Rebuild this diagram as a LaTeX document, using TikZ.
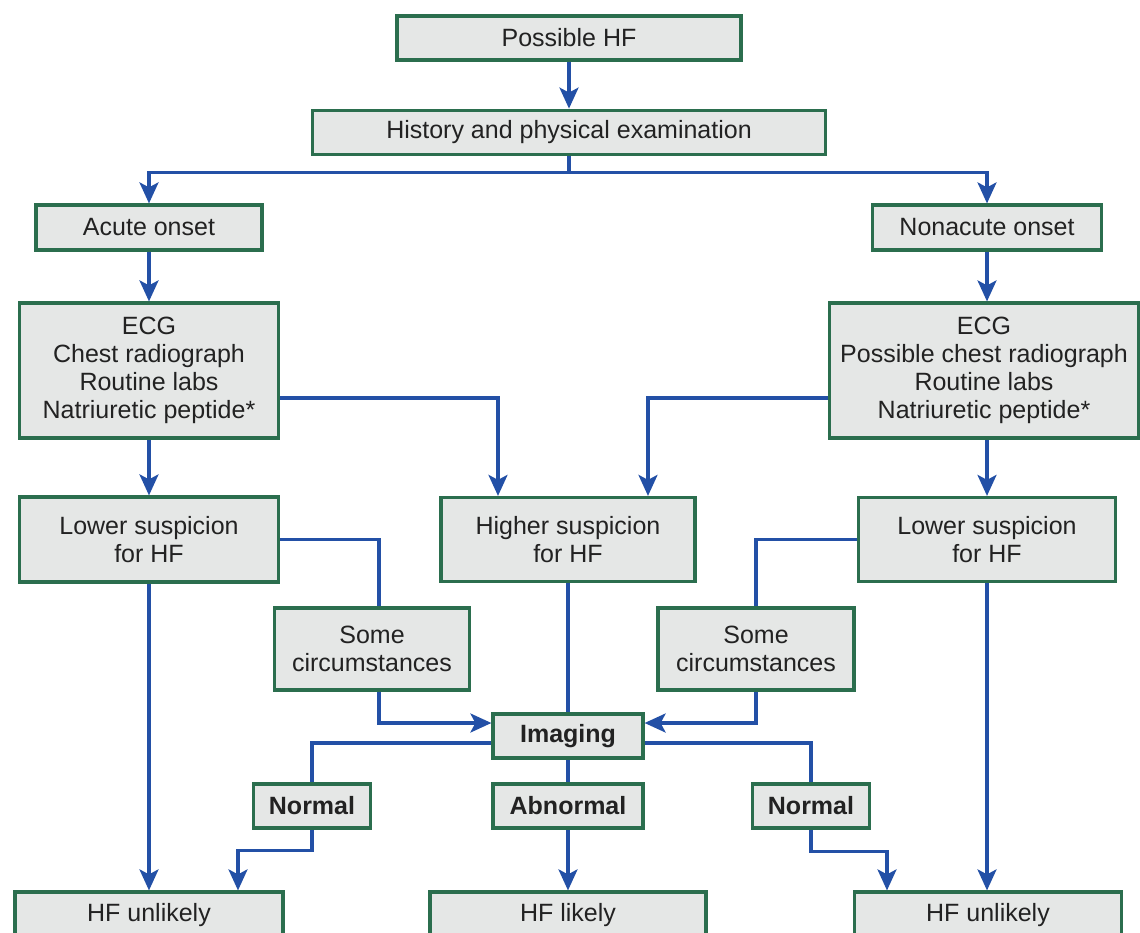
\documentclass[tikz,border=0pt]{standalone}
\usepackage{fontspec}
\setmainfont{Liberation Sans}
\usetikzlibrary{positioning,arrows.meta}

\definecolor{boxgreen}{HTML}{2B6E4E}
\definecolor{boxfill}{HTML}{E5E7E6}
\definecolor{flowblue}{HTML}{2350A6}
\definecolor{inktext}{HTML}{222222}

\begin{document}
\begin{tikzpicture}[
    x=1pt, y=-1pt,
    node distance=26pt,
    box/.style={
        draw=boxgreen,
        fill=boxfill,
        text=inktext,
        line width=3.2pt,
        rectangle,
        inner sep=0pt,
        align=center,
        font=\fontsize{25}{28}\selectfont
    },
    arrow/.style={-{Stealth[length=21pt,width=19pt,inset=5pt]}, draw=flowblue, line width=3.2pt},
    link/.style={draw=flowblue, line width=3.2pt}
]

\clip (0,0) rectangle (1140,932);
\fill[white] (0,0) rectangle (1140,932);

% top of the chart
\node[box, minimum width=344pt, minimum height=44pt] (possible) at (569,38) {Possible HF};
\node[box, minimum width=513pt, minimum height=44pt, below=47pt of possible] (history) {History and physical examination};

\node[box, minimum width=226pt, minimum height=45pt] (acute) at (149,227.5) {Acute onset};
\node[box, minimum width=229pt, minimum height=45pt] (nonacute) at (987,227.5) {Nonacute onset};

\node[box, minimum width=259pt, minimum height=135pt] (testsA) at (149,370.5) {
ECG \\
Chest radiograph \\
Routine labs \\
Natriuretic peptide*
};
\node[box, minimum width=309pt, minimum height=135pt] (testsB) at (984,370.5) {
ECG \\
Possible chest radiograph \\
Routine labs \\
Natriuretic peptide*
};

% suspicion level
\node[box, minimum width=259pt, minimum height=85pt] (lowerA) at (149,539.5) {Lower suspicion \\ for HF};
\node[box, minimum width=254pt, minimum height=84pt] (higher) at (568,539.5) {Higher suspicion \\ for HF};
\node[box, minimum width=257pt, minimum height=84pt] (lowerB) at (987,539.5) {Lower suspicion \\ for HF};

\node[box, minimum width=195pt, minimum height=82pt] (someA) at (372,649) {Some \\ circumstances};
\node[box, minimum width=196pt, minimum height=82pt] (someB) at (756,649) {Some \\ circumstances};

% imaging and outcomes
\node[box, minimum width=150pt, minimum height=44pt] (imaging) at (568,736) {\textbf{Imaging}};
\node[box, minimum width=150pt, minimum height=44pt] (abnormal) at (568,806) {\textbf{Abnormal}};
\node[box, minimum width=117pt, minimum height=44pt] (normalA) at (312,806) {\textbf{Normal}};
\node[box, minimum width=117pt, minimum height=44pt] (normalB) at (811,806) {\textbf{Normal}};

\node[box, minimum width=268pt, minimum height=46pt] (unlikelyA) at (149,915) {HF unlikely};
\node[box, minimum width=276pt, minimum height=46pt] (likely) at (568,915) {HF likely};
\node[box, minimum width=267pt, minimum height=46pt] (unlikelyB) at (988,915) {HF unlikely};

\draw[arrow] (possible.south) -- (possible.south |- history.north);
\draw[arrow] (history.south) -- ++(0,17) -| (acute.north);
\draw[arrow] (history.south) -- ++(0,17) -| (nonacute.north);

\draw[arrow] (acute) -- (testsA);
\draw[arrow] (nonacute.south) -- (nonacute.south |- testsB.north);
\draw[arrow] (testsA) -- (lowerA);
\draw[arrow] (testsB.south -| lowerB.north) -- (lowerB.north);
\draw[arrow] ([yshift=-27.5pt]testsA.east) -| ([xshift=-70pt]higher.north);
\draw[arrow] ([yshift=-27.5pt]testsB.west) -| ([xshift=80pt]higher.north);

\draw[link] (lowerA.east) -| ([xshift=7pt]someA.north);
\draw[link] (lowerB.west) -| (someB.north);
\draw[arrow] ([xshift=7pt]someA.south) |- ([yshift=13pt]imaging.west);
\draw[arrow] (someB.south) |- ([yshift=13pt]imaging.east);
\draw[link] (higher) -- (imaging);

\draw[link] ([yshift=-7pt]imaging.west) -| (normalA.north);
\draw[link] ([yshift=-7pt]imaging.east) -| (normalB.north);
\draw[link] (imaging) -- (abnormal);
\draw[arrow] (abnormal) -- (likely);
\draw[arrow] (normalA.south) -- ++(0,21) -| ([xshift=89pt]unlikelyA.north);
\draw[arrow] (normalB.south) -- ++(0,22) -| ([xshift=-101pt]unlikelyB.north);
\draw[arrow] (lowerA) -- (unlikelyA);
\draw[arrow] (lowerB.south) -- (lowerB.south |- unlikelyB.north);

\end{tikzpicture}
\end{document}
